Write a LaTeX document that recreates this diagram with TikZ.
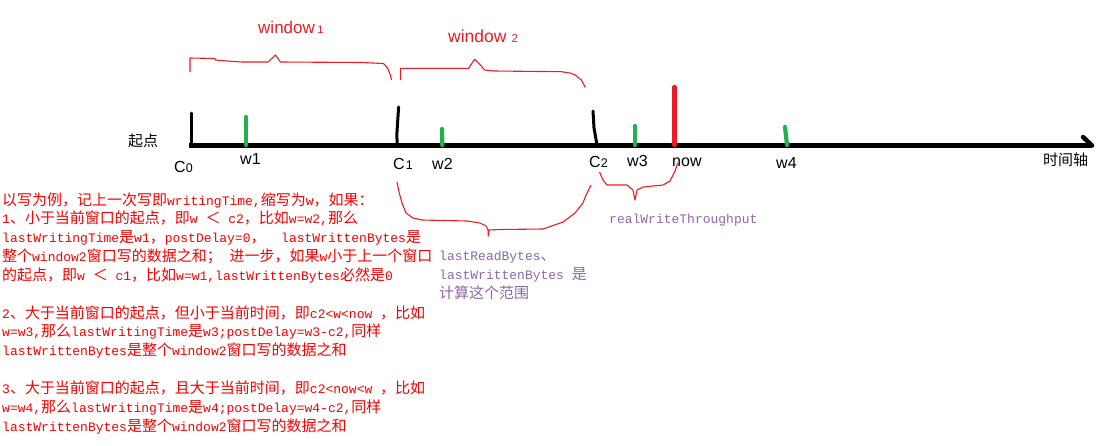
\documentclass[tikz,border=0pt]{standalone}
\usepackage{fontspec}
\setmainfont{Liberation Sans}
\newfontfamily\monof{Liberation Mono}
\newfontfamily\zhf[Scale=1.1538]{Noto Sans CJK SC}
\newfontfamily\zhl{Noto Sans CJK SC}
\newcommand\zh[1]{{\zhf #1}}
\definecolor{pred}{RGB}{237,28,36}
\definecolor{tred}{RGB}{250,0,0}
\definecolor{pgreen}{RGB}{34,177,76}
\definecolor{ppurple}{RGB}{142,104,170}
\tikzset{
  rtxt/.style={inner sep=0, anchor=base west, text=tred, font=\monof\fontsize{13}{16}\selectfont},
  ptxt/.style={inner sep=0, anchor=base west, text=ppurple, font=\monof\fontsize{13}{16}\selectfont},
  lbl/.style={inner sep=0, anchor=base west, font=\fontsize{16}{18}\selectfont},
  wlbl/.style={inner sep=0, anchor=base west, text=pred},
  zlbl/.style={inner sep=0, anchor=west, font=\zhl\fontsize{15}{17}\selectfont},
  btick/.style={line width=3pt, line cap=round, black},
  gtick/.style={line width=4.2pt, line cap=round, pgreen},
  brace/.style={pred, line width=1.1pt, line join=round},
}
\begin{document}
\begin{tikzpicture}[x=1pt, y=-1pt]
\useasboundingbox (0,0) rectangle (1099,445);
% axis
\draw[line width=5pt] (189,145.5) -- (1092,145.5);
\draw[line width=4.5pt, line cap=round] (1083,137) -- (1092,145.5);
% ticks
\draw[btick] (191,113) -- (191,145);
\draw[btick] (398.6,107) -- (396.8,135) -- (397.3,145);
\draw[btick] (593,111) -- (594,128) -- (597,145);
\draw[gtick] (246,117) -- (246,145);
\draw[gtick] (442,129) -- (442.3,145);
\draw[gtick] (635,126) -- (635,145);
\draw[gtick] (785,127) -- (787,145);
\draw[line width=4.4pt, line cap=round, pred] (674.5,87) -- (674.5,145);
% axis labels
\node[zlbl] (start) at (128,140.5) {起点};
\node[zlbl] (axis) at (1043,159.5) {时间轴};
\node[lbl] (c0) at (174,172) {C{\fontsize{12.5}{14}\selectfont 0}};
\node[lbl] (c1) at (393,169) {C{\fontsize{12.5}{14}\selectfont\kern1pt 1}};
\node[lbl] (c2) at (589,167) {C{\fontsize{12.5}{14}\selectfont 2}};
\node[lbl] (w1) at (240,164) {w1};
\node[lbl] (w2) at (432,169) {w2};
\node[lbl] (w3) at (627,166) {w3};
\node[lbl] (now) at (672,166) {now};
\node[lbl] (w4) at (776,168) {w4};
% window labels
\node[wlbl] (win1) at (258,33) {{\fontsize{17}{18}\selectfont window}{\fontsize{11}{12}\selectfont\kern2.5pt 1}};
\node[wlbl] (win2) at (448,42) {{\fontsize{17.5}{18}\selectfont window}{\fontsize{11.5}{12}\selectfont\kern5pt 2}};
% braces
\draw[brace] (190,72) -- (190,58) -- (215,58.5) -- (215.5,60) -- (227,61) -- (242,62) -- (268,62) -- (275.5,55) -- (280.5,62) -- (362,62.5) -- (383.5,63.5) -- (387.5,68) -- (390,74) -- (391.5,80);
\draw[brace] (400.5,80) -- (400.5,68.3) -- (468.6,68.3) -- (474.5,59.3) -- (480.4,65) -- (484.4,70) -- (494.3,71) -- (561.5,71.7) -- (570,73) -- (575.3,75) -- (581.3,80) -- (583.5,84) -- (585.2,87.3);
\draw[brace] (397,182) -- (399,192) -- (402,203) -- (406,213) -- (413,218) -- (422,220) -- (467,221) -- (480,223) -- (486,226) -- (488,230) -- (488.3,236) -- (488.8,230) -- (500,229.5) -- (543,229) -- (563,222) -- (575,213) -- (583,203) -- (586,195) -- (591,185);
\draw[brace] (599.5,172) -- (603,180) -- (607,185) -- (627,185) -- (633,190) -- (635,200) -- (637,190) -- (643,187) -- (663,185) -- (670,181) -- (675,171) -- (677.6,163.3);
% purple texts
\node[ptxt] (rwt) at (609,223) {realWriteThroughput};
\node[ptxt] (lr1) at (439,260.7) {lastReadBytes\zh{、}};
\node[ptxt] (lr2) at (439,279.8) {lastWrittenBytes \zh{是}};
\node[ptxt] (lr3) at (439,298.8) {\zh{计算这个范围}};
% red explanation
\node[rtxt] (t1) at (2,205) {\zh{以写为例，记上一次写即}writingTime,\zh{缩写为}w\zh{，如果：}};
\node[rtxt] (t2) at (2,223.8) {1\zh{、小于当前窗口的起点，即}w \zh{＜} c2\zh{，比如}w=w2,\zh{那么}};
\node[rtxt] (t3) at (2,242.7) {lastWritingTime\zh{是}w1\zh{，}postDelay=0\zh{，}\ \ lastWrittenBytes\zh{是}};
\node[rtxt] (t4) at (2,261.5) {\zh{整个}window2\zh{窗口写的数据之和；}\ \zh{进一步，如果}w\zh{小于上一个窗口}};
\node[rtxt] (t5) at (2,280.3) {\zh{的起点，即}w \zh{＜} c1\zh{，比如}w=w1,lastWrittenBytes\zh{必然是}0};
\node[rtxt] (t6) at (2,318) {2\zh{、大于当前窗口的起点，但小于当前时间，即}c2<w<now \zh{，比如}};
\node[rtxt] (t7) at (2,336.8) {w=w3,\zh{那么}lastWritingTime\zh{是}w3;postDelay=w3-c2,\zh{同样}};
\node[rtxt] (t8) at (2,355.6) {lastWrittenBytes\zh{是整个}window2\zh{窗口写的数据之和}};
\node[rtxt] (t9) at (2,393.3) {3\zh{、大于当前窗口的起点，且大于当前时间，即}c2<now<w \zh{，比如}};
\node[rtxt] (t10) at (2,412.1) {w=w4,\zh{那么}lastWritingTime\zh{是}w4;postDelay=w4-c2,\zh{同样}};
\node[rtxt] (t11) at (2,431) {lastWrittenBytes\zh{是整个}window2\zh{窗口写的数据之和}};
\end{tikzpicture}
\end{document}
